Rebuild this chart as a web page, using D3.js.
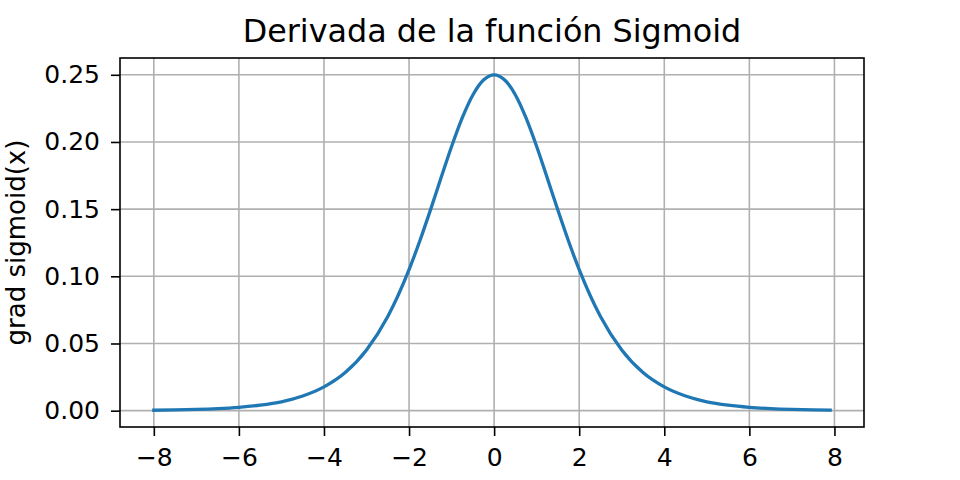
<!DOCTYPE html>
<html>
<head>
<meta charset="utf-8">
<script src="https://cdn.jsdelivr.net/npm/d3@7"></script>
<style>
  body { margin: 0; background: #fff; }
  svg { font-family: "DejaVu Sans", sans-serif; }
</style>
</head>
<body>
<div id="chart"></div>
<script>
// values
var xs = [-8, -7.5, -7, -6.5, -6, -5.5, -5, -4.5, -4, -3.5, -3, -2.5, -2, -1.75, -1.5, -1.25, -1,
          -0.75, -0.5, -0.25, 0, 0.25, 0.5, 0.75, 1, 1.25, 1.5, 1.75, 2, 2.5, 3, 3.5, 4, 4.5,
          5, 5.5, 6, 6.5, 7, 7.5, 7.9];
var ys = [0.00034, 0.00055, 0.0009, 0.0015, 0.0025, 0.0041, 0.0066, 0.0109, 0.0177, 0.0284,
          0.0452, 0.0701, 0.1050, 0.1261, 0.1491, 0.1731, 0.1966, 0.2179, 0.2350, 0.2461,
          0.25, 0.2461, 0.2350, 0.2179, 0.1966, 0.1731, 0.1491, 0.1261, 0.1050, 0.0701,
          0.0452, 0.0284, 0.0177, 0.0109, 0.0066, 0.0041, 0.0025, 0.0015, 0.0009, 0.00055,
          0.00037];
var xTicks = [-8, -6, -4, -2, 0, 2, 4, 6, 8];
var yTicks = [0, 0.05, 0.10, 0.15, 0.20, 0.25];

var svgWidth = 960, svgHeight = 480;
var margin = {top: 58, right: 96, bottom: 53, left: 120};
var width = svgWidth - margin.left - margin.right;
var height = svgHeight - margin.top - margin.bottom;

var svg = d3.select("#chart").append("svg")
    .attr("width", svgWidth)
    .attr("height", svgHeight);

var g = svg.append("g")
    .attr("transform", `translate(${margin.left}, ${margin.top})`);

var x = d3.scaleLinear().domain([-8.795, 8.695]).range([0, width]);
var y = d3.scaleLinear().domain([-0.01216, 0.26250]).range([height, 0]);

// grid
g.append("g").selectAll("line").data(xTicks).enter().append("line")
    .attr("x1", d => x(d)).attr("x2", d => x(d))
    .attr("y1", 0).attr("y2", height)
    .attr("stroke", "#b0b0b0").attr("stroke-width", 1.6);
g.append("g").selectAll("line").data(yTicks).enter().append("line")
    .attr("y1", d => y(d)).attr("y2", d => y(d))
    .attr("x1", 0).attr("x2", width)
    .attr("stroke", "#b0b0b0").attr("stroke-width", 1.6);

// curve
var pts = xs.map((v, i) => [v, ys[i]]);
g.append("path")
    .datum(pts)
    .attr("fill", "none")
    .attr("stroke", "#1f77b4")
    .attr("stroke-width", 3.3)
    .attr("stroke-linecap", "square")
    .attr("d", d3.line().x(d => x(d[0])).y(d => y(d[1])).curve(d3.curveMonotoneX));

// axes
var xAxis = g.append("g")
    .attr("transform", `translate(0, ${height})`)
    .call(d3.axisBottom(x).tickValues(xTicks).tickSize(9).tickPadding(12)
        .tickFormat(d => d < 0 ? "\u2212" + Math.abs(d) : d));
var yAxis = g.append("g")
    .call(d3.axisLeft(y).tickValues(yTicks).tickSize(9).tickPadding(11)
        .tickFormat(d3.format(".2f")));

[xAxis, yAxis].forEach(function (a) {
    a.select(".domain").remove();
    a.selectAll(".tick line").attr("stroke", "#000").attr("stroke-width", 1.6);
    a.selectAll(".tick text").attr("fill", "#000").style("font-size", "25px")
        .style("font-family", "DejaVu Sans");
});

// frame
g.append("rect")
    .attr("width", width).attr("height", height)
    .attr("fill", "none").attr("stroke", "#000").attr("stroke-width", 1.6);

// title and label
svg.append("text")
    .attr("x", margin.left + width / 2).attr("y", 42)
    .attr("text-anchor", "middle")
    .style("font-size", "31.8px")
    .text("Derivada de la función Sigmoid");

svg.append("text")
    .attr("transform", `translate(25, ${margin.top + height / 2}) rotate(-90)`)
    .attr("text-anchor", "middle")
    .style("font-size", "26px")
    .text("grad sigmoid(x)");
</script>
</body>
</html>
